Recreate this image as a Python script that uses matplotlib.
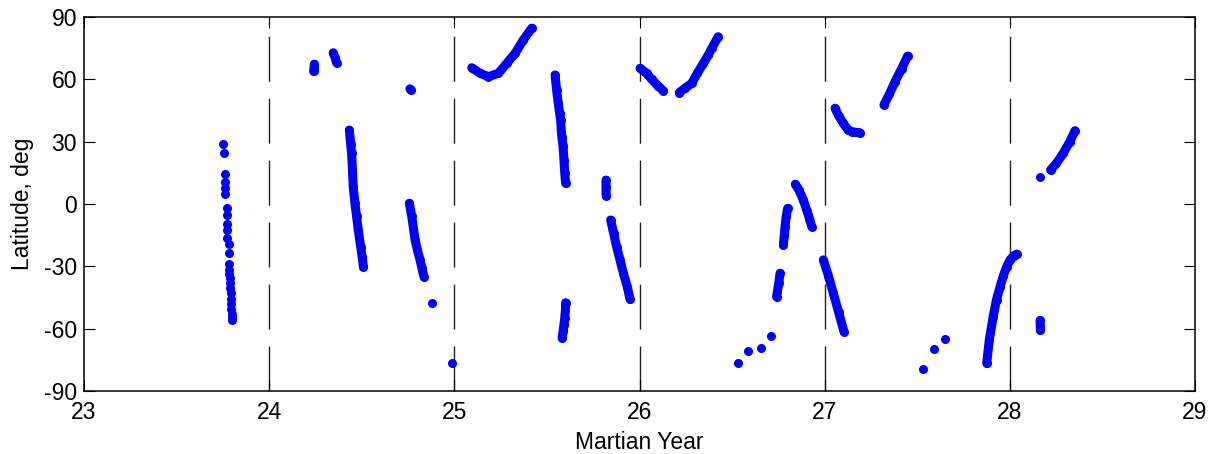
import matplotlib
matplotlib.use("Agg")
import matplotlib.pyplot as plt

plt.rcParams['font.family'] = ['Liberation Sans', 'DejaVu Sans']

# ---- data (Martian Year, latitude deg) ----
year_ticks = [23, 24, 25, 26, 27, 28, 29]
lat_ticks = [-90, -60, -30, 0, 30, 60, 90]
year_boundaries = [24, 25, 26, 27, 28]

# MY23 sparse column of dots
col23_year = [23.752, 23.756, 23.763, 23.763, 23.763, 23.763, 23.774, 23.774, 23.774, 23.774,
              23.773, 23.781, 23.781, 23.781, 23.781, 23.784, 23.786, 23.788, 23.790, 23.792,
              23.794, 23.795, 23.796, 23.797, 23.797, 23.797]
col23_lat = [28.9, 24.4, 14.4, 10.7, 7.6, 4.8, -2.1, -5.3, -9.6, -12.5,
             -16.5, -19.2, -23.7, -28.9, -31.8, -33.5, -35.5, -38.0, -40.5, -43.0,
             -45.5, -48.0, -50.5, -53.0, -54.5, -55.8]

# isolated dots
dots_year = [24.878, 24.989, 26.530, 26.587, 26.654, 26.710,
             27.529, 27.592, 27.650, 28.164]
dots_lat = [-47.8, -76.7, -76.4, -70.7, -69.4, -63.4,
            -79.4, -69.9, -65.0, 13.2]

# continuous tracks
trk00_year = [24.240, 24.242, 24.244]
trk00_lat = [63.8, 65.5, 67.3]
trk01_year = [24.346, 24.356, 24.364]
trk01_lat = [72.8, 70.5, 68.0]
trk19_year = [24.760, 24.766]
trk19_lat = [55.4, 55.1]
trk02_year = [24.433, 24.440, 24.445, 24.450, 24.454, 24.463, 24.472, 24.481, 24.494, 24.502, 24.509]
trk02_lat = [35.6, 29.0, 24.4, 16.0, 8.3, 0.35, -6.0, -12.5, -20.5, -25.5, -30.2]
trk03_year = [24.757, 24.770, 24.788, 24.800, 24.815, 24.825, 24.836]
trk03_lat = [0.35, -6.0, -17.3, -22.0, -26.9, -31.0, -35.0]
trk04_year = [25.094, 25.139, 25.184, 25.238, 25.283, 25.328, 25.372, 25.418]
trk04_lat = [65.6, 62.9, 61.3, 62.9, 67.7, 72.5, 78.9, 84.6]
trk05_year = [25.544, 25.552, 25.561, 25.568, 25.574, 25.580, 25.587, 25.592, 25.596, 25.601]
trk05_lat = [62.1, 55.0, 48.5, 44.0, 40.4, 32.4, 28.0, 21.2, 15.0, 10.0]
trk06_year = [25.601, 25.600, 25.596, 25.592, 25.588, 25.582]
trk06_lat = [-47.5, -51.0, -55.0, -58.0, -61.0, -64.5]
trk07_year = [25.819, 25.819, 25.820]
trk07_lat = [11.5, 8.0, 4.0]
trk08_year = [25.844, 25.860, 25.876, 25.895, 25.913, 25.934, 25.949]
trk08_lat = [-7.7, -14.0, -20.5, -27.0, -33.4, -39.8, -45.9]
trk09_year = [26.003, 26.038, 26.066, 26.100, 26.129]
trk09_lat = [65.3, 62.9, 60.0, 56.8, 54.5]
trk10_year = [26.215, 26.245, 26.282, 26.312, 26.345, 26.370, 26.390, 26.425]
trk10_lat = [53.6, 55.7, 58.1, 62.9, 67.7, 71.5, 74.9, 80.5]
trk11_year = [26.759, 26.752, 26.745, 26.740]
trk11_lat = [-33.3, -38.0, -42.0, -44.6]
trk12_year = [26.800, 26.792, 26.786, 26.782, 26.777]
trk12_lat = [-2.1, -6.0, -10.9, -15.0, -19.7]
trk13_year = [26.842, 26.862, 26.885, 26.905, 26.918, 26.930]
trk13_lat = [9.5, 6.5, 1.9, -3.5, -7.0, -10.9]
trk14_year = [26.993, 27.020, 27.047, 27.075, 27.104]
trk14_lat = [-26.9, -34.5, -43.0, -52.0, -61.4]
trk15_year = [27.056, 27.075, 27.101, 27.125, 27.146, 27.170, 27.191]
trk15_lat = [46.1, 42.5, 38.8, 35.8, 34.8, 34.5, 34.3]
trk16_year = [27.320, 27.350, 27.380, 27.415, 27.448]
trk16_lat = [47.7, 53.0, 58.9, 65.0, 71.2]
trk17_year = [27.875, 27.889, 27.910, 27.928, 27.947, 27.965, 27.983, 28.001, 28.020, 28.037]
trk17_lat = [-76.7, -65.4, -54.2, -46.0, -39.8, -34.5, -30.2, -26.9, -25.0, -24.1]
trk18_year = [28.220, 28.252, 28.288, 28.324, 28.352]
trk18_lat = [16.4, 19.6, 24.4, 30.0, 35.3]
trk20_year = [28.163, 28.164, 28.165]
trk20_lat = [-56.0, -58.5, -60.8]

tracks = [
    (trk00_year, trk00_lat), (trk01_year, trk01_lat), (trk19_year, trk19_lat),
    (trk02_year, trk02_lat), (trk03_year, trk03_lat),
    (trk04_year, trk04_lat), (trk05_year, trk05_lat), (trk06_year, trk06_lat),
    (trk07_year, trk07_lat), (trk08_year, trk08_lat), (trk09_year, trk09_lat),
    (trk10_year, trk10_lat), (trk11_year, trk11_lat), (trk12_year, trk12_lat),
    (trk13_year, trk13_lat), (trk14_year, trk14_lat), (trk15_year, trk15_lat),
    (trk16_year, trk16_lat), (trk17_year, trk17_lat), (trk18_year, trk18_lat),
    (trk20_year, trk20_lat),
]

# ---- figure ----
W, H, DPI = 1219, 454, 100
fig = plt.figure(figsize=(W / DPI, H / DPI), dpi=DPI)
ax = fig.add_axes([84 / W, 1 - 391 / H, (1195 - 84) / W, (391 - 17) / H])

blue = '#0000ff'
dot_pt = 6.5

for yb in year_boundaries:
    ax.plot([yb, yb], [-90, 90], color='#222222', lw=1.0,
            linestyle=(0, (32.4, 12.2)), zorder=1)

ax.plot(col23_year, col23_lat, 'o', color=blue, ms=dot_pt, mew=0, zorder=3)
ax.plot(dots_year, dots_lat, 'o', color=blue, ms=dot_pt, mew=0, zorder=3)
for tx, ty in tracks:
    ax.plot(tx, ty, '-o', color=blue, ms=dot_pt, mew=0, lw=dot_pt,
            solid_capstyle='round', solid_joinstyle='round', zorder=3)

ax.set_xlim(23, 29)
ax.set_ylim(-90, 90)
ax.set_xticks(year_ticks)
ax.set_yticks(lat_ticks)
ax.set_xticklabels([str(v) for v in year_ticks])
ax.set_yticklabels([str(v) for v in lat_ticks])

ax.tick_params(direction='in', length=8, width=0.8, top=True, right=True,
               labelsize=16.5, colors='black')
ax.tick_params(axis='x', pad=7)
ax.tick_params(axis='y', pad=5)
for s in ax.spines.values():
    s.set_linewidth(1.1)
    s.set_color('black')

ax.set_xlabel('Martian Year', fontsize=16.5)
ax.set_ylabel('Latitude, deg', fontsize=16.5)
ax.xaxis.set_label_coords(0.5, -0.108)
ax.yaxis.set_label_coords(-0.045, 0.5)

fig.savefig('out.png', dpi=DPI)
